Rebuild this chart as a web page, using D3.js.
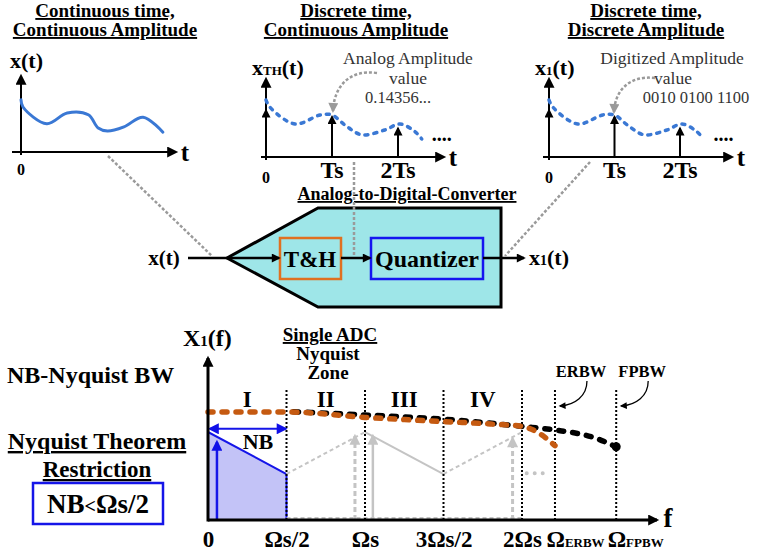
<!DOCTYPE html>
<html>
<head>
<meta charset="utf-8">
<script src="https://cdn.jsdelivr.net/npm/d3@7"></script>
<style>
body { margin: 0; background: #fff; }
svg { display: block; }
text { font-family: "Liberation Serif", "DejaVu Serif", serif; font-weight: bold; fill: #000; }
</style>
</head>
<body>
<svg id="chart"></svg>
<script>
var width = 757;
var height = 553;

// time signals, t in units of Ts, amplitude 0..1
var contSignal = [[0, 0.87], [0.03, 0.75], [0.39, 0.47], [0.7, 0.65], [1.02, 0.62], [1.17, 0.4],
	[1.31, 0.35], [1.56, 0.42], [1.85, 0.58], [2.15, 0.33]];
var heldSignal = [[0, 0.95], [0.06, 0.83], [0.44, 0.55], [0.82, 0.7], [1, 0.7], [1.2, 0.53],
	[1.45, 0.37], [1.8, 0.45], [2.03, 0.55], [2.26, 0.42], [2.36, 0.3]];
var sampleTimes = [0, 1, 2];
var sampleValues = [0.78, 0.67, 0.48];
var sampleLabels = ["0", "Ts", "2Ts"];

var panelTitles = [
	["Continuous time,", "Continuous Amplitude"],
	["Discrete time,", "Continuous Amplitude"],
	["Discrete time,", "Discrete Amplitude"]
];
var panelNotes = [
	[],
	["Analog Amplitude", "value", "0.14356..."],
	["Digitized Amplitude", "value", "0010 0100 1100"]
];

// spectrum, f in units of Ωs, amplitude 0..1
var spectrumTicks = [0, 0.5, 1, 1.5, 2, 2.21, 2.6];
var spectrumLabels = [["0", ""], ["Ωs/2", ""], ["Ωs", ""], ["3Ωs/2", ""], ["2Ωs", ""], ["Ω", "ERBW"], ["Ω", "FPBW"]];
var zoneEdges = [0.5, 1, 1.5, 2];
var bandEdges = [2.21, 2.6];
var bandNames = ["ERBW", "FPBW"];
var zoneNames = ["I", "II", "III", "IV"];
var zoneCenters = [0.25, 0.75, 1.25, 1.75];
var erbwCurve = [[0, 0.9], [0.5, 0.9], [1, 0.855], [1.5, 0.82], [1.8, 0.8], [2, 0.78], [2.1, 0.73], [2.21, 0.62]];
var fpbwCurve = [[0.5, 0.905], [1, 0.875], [1.5, 0.84], [2, 0.78], [2.21, 0.75], [2.45, 0.69], [2.6, 0.61]];
var basebandEdge = [[0, 0.733], [0.5, 0.383]];
var imageEdges = [[0.5, 0.383], [1, 0.733], [1.5, 0.383], [2, 0.733]];
var basebandArrow = [0.057, 0.65];
var imageArrowsDashed = [[0.936, 0.7], [1.94, 0.68]];
var imageArrowsSolid = [[1.05, 0.7]];
var aliasDots = [[2.03, 0.39], [2.18, 0.39]];
var nbSpan = [0, 0.5, 0.76];

var svg = d3.select("#chart").attr("width", width).attr("height", height);
svg.append("rect").attr("width", width).attr("height", height).attr("fill", "#fff");
var defs = svg.append("defs");

function marker(id, color, w, h) {
	defs.append("marker")
		.attr("id", id)
		.attr("viewBox", "0 0 10 10")
		.attr("refX", 8).attr("refY", 5)
		.attr("markerUnits", "userSpaceOnUse")
		.attr("markerWidth", w).attr("markerHeight", h)
		.attr("orient", "auto-start-reverse")
		.append("path").attr("d", "M0,0L10,5L0,10z").attr("fill", color);
}
marker("ah", "#000", 15, 11);
marker("ahS", "#000", 10, 9);
marker("ahT", "#000", 8, 7);
marker("ahB", "#1010e8", 12, 11);
marker("ahG", "#9a9a9a", 11, 10);
marker("ahL", "#c4c4c4", 12, 11);

function line(g, x1, y1, x2, y2, color, w, mk, dash) {
	var l = g.append("line").attr("x1", x1).attr("y1", y1).attr("x2", x2).attr("y2", y2)
		.attr("stroke", color).attr("stroke-width", w);
	if (mk) l.attr("marker-end", "url(#" + mk + ")");
	if (dash) l.attr("stroke-dasharray", dash);
	return l;
}

function txt(g, x, y, size, anchor) {
	return g.append("text").attr("x", x).attr("y", y).attr("font-size", size)
		.attr("text-anchor", anchor || "middle");
}

function part(t, str, size) {
	t.append("tspan").attr("font-size", size).text(str);
	return t;
}

// ---------- time domain panels ----------
function timePanel(p) {
	var g = svg.append("g");
	var x = d3.scaleLinear().domain([0, 1]).range([p.ox, p.ox + p.k]);
	var y = d3.scaleLinear().domain([0, 1]).range([p.oy, p.oy - 60]);

	txt(g, p.cx, 17, 19).style("text-decoration", "underline").text(panelTitles[p.i][0]);
	txt(g, p.cx, 36, 19).style("text-decoration", "underline").text(panelTitles[p.i][1]);

	line(g, p.x0, p.oy, p.x1, p.oy, "#000", 2, "ah");
	line(g, p.ox, p.oy + 3, p.ox, p.ytop, "#000", 2, "ah");
	txt(g, p.x1 + 9, p.oy + 9, 25).text("t");

	var lab = txt(g, p.lx, p.ly, 22, "start");
	p.ylabel.forEach(function(d) { part(lab, d[0], d[1]); });

	var path = d3.line().x(function(d) { return x(d[0]); }).y(function(d) { return y(d[1]); })
		.curve(d3.curveCatmullRom);

	if (!p.sampled) {
		g.append("path").attr("d", path(contSignal)).attr("fill", "none")
			.attr("stroke", "#3a78d4").attr("stroke-width", 3).attr("stroke-linecap", "round");
		txt(g, p.ox, p.oy + 23, 16).text("0");
		return;
	}

	g.append("path").attr("d", path(heldSignal)).attr("fill", "none")
		.attr("stroke", "#3a78d4").attr("stroke-width", 3.5)
		.attr("stroke-dasharray", "3,6").attr("stroke-linecap", "round");
	txt(g, x(2.36) + 10, y(0.3) + 2, 20, "start").text("....");

	sampleTimes.forEach(function(t, i) {
		line(g, x(t), p.oy, x(t), y(sampleValues[i]) , "#000", 2, "ahS");
		if (i == 0) txt(g, x(t), p.oy + 26, 16).text(sampleLabels[i]);
		else txt(g, x(t), p.oy + 21, 24).text(sampleLabels[i]);
	});

	var notes = panelNotes[p.i];
	txt(g, p.nx[0], 64, 17.5).style("font-weight", "normal").style("fill", "#333").text(notes[0]);
	txt(g, p.nx[1], 84, 17.5).style("font-weight", "normal").style("fill", "#333").text(notes[1]);
	txt(g, p.nx[2], 103, 16.5).style("font-weight", "normal").style("fill", "#333").text(notes[2]);

	g.append("path").attr("d", p.curl).attr("fill", "none")
		.attr("stroke", "#9a9a9a").attr("stroke-width", 2.5).attr("stroke-dasharray", "3,2")
		.attr("marker-end", "url(#ahG)");
}

timePanel({ i: 0, ox: 21, oy: 152, k: 66, x0: 12, x1: 176, ytop: 76, cx: 105,
	lx: 10, ly: 68, ylabel: [["x(t)", 22]], sampled: false });
timePanel({ i: 1, ox: 266, oy: 157, k: 66, x0: 261, x1: 444, ytop: 79, cx: 356,
	lx: 252, ly: 75, ylabel: [["x", 22], ["TH", 13], ["(t)", 22]], sampled: true,
	nx: [408, 408, 398], curl: "M377,73 C350,69 334,86 333,111" });
timePanel({ i: 2, ox: 549, oy: 157, k: 65.5, x0: 543, x1: 732, ytop: 79, cx: 646,
	lx: 535, ly: 75, ylabel: [["x", 22], ["1", 13], ["(t)", 22]], sampled: true,
	nx: [672, 673, 696], curl: "M655,78 C630,75 615,90 614,112" });

// ---------- ADC block ----------
var adc = svg.append("g");
adc.append("polygon").attr("points", "227,258 318,208 501,208 501,307 318,307")
	.attr("fill", "#9ee6e8").attr("stroke", "#000").attr("stroke-width", 3);
adc.append("rect").attr("x", 280).attr("y", 238).attr("width", 61).attr("height", 41)
	.attr("fill", "none").attr("stroke", "#e07020").attr("stroke-width", 2.5);
adc.append("rect").attr("x", 371).attr("y", 238).attr("width", 112).attr("height", 41)
	.attr("fill", "none").attr("stroke", "#1515f0").attr("stroke-width", 2.5);
txt(adc, 407, 200, 18).style("text-decoration", "underline").text("Analog-to-Digital-Converter");
txt(adc, 164, 265, 21).text("x(t)");
txt(adc, 310, 267, 23).text("T&H");
txt(adc, 427, 267, 24).text("Quantizer");
var xo = txt(adc, 529, 265, 22, "start");
part(xo, "x", 22); part(xo, "1", 14); part(xo, "(t)", 22);
line(adc, 188, 258, 279, 258, "#000", 2.5, "ahS");
line(adc, 341, 258, 370, 258, "#000", 2.5, "ahS");
line(adc, 483, 258, 524, 258, "#000", 2.5, "ahS");

// gray dashed guides from panels to the block
line(svg, 108, 156, 212, 256, "#9a9a9a", 2.5, null, "3,2");
line(svg, 354, 162, 354, 257, "#9a9a9a", 2.5, null, "3,2");
line(svg, 590, 162, 505, 256, "#9a9a9a", 2.5, null, "3,2");

// ---------- spectrum ----------
var sp = svg.append("g");
var fx = d3.scaleLinear().domain([0, 2]).range([208, 522]);
var fy = d3.scaleLinear().domain([0, 1]).range([520, 400]);
var fline = d3.line().x(function(d) { return fx(d[0]); }).y(function(d) { return fy(d[1]); });

// baseband (blue)
var base = [[0, 0]].concat(basebandEdge).concat([[0.5, 0]]);
sp.append("path").attr("d", fline(base) + "Z").attr("fill", "#c3c3f7")
	.attr("stroke", "#1515e8").attr("stroke-width", 2);
line(sp, fx(basebandArrow[0]), fy(0), fx(basebandArrow[0]), fy(basebandArrow[1]), "#1515e8", 2.5, "ahB");

// images (gray)
line(sp, fx(0.5), fy(0) - 2, fx(2), fy(0) - 2, "#c4c4c4", 2, null, "4,3");
sp.append("path").attr("d", fline(imageEdges.slice(0, 2))).attr("fill", "none")
	.attr("stroke", "#c4c4c4").attr("stroke-width", 2).attr("stroke-dasharray", "4,3");
sp.append("path").attr("d", fline(imageEdges.slice(1, 3))).attr("fill", "none")
	.attr("stroke", "#c4c4c4").attr("stroke-width", 2);
sp.append("path").attr("d", fline(imageEdges.slice(2, 4))).attr("fill", "none")
	.attr("stroke", "#c4c4c4").attr("stroke-width", 2).attr("stroke-dasharray", "4,3");
imageArrowsDashed.forEach(function(a) {
	line(sp, fx(a[0]), fy(0), fx(a[0]), fy(a[1]), "#c4c4c4", 3, "ahL", "5,3");
});
imageArrowsSolid.forEach(function(a) {
	line(sp, fx(a[0]), fy(0), fx(a[0]), fy(a[1]), "#c4c4c4", 2.5, "ahL");
});
sp.append("path").attr("d", fline(aliasDots)).attr("stroke", "#c4c4c4").attr("stroke-width", 4)
	.attr("stroke-dasharray", "0,8").attr("stroke-linecap", "round");

// zone separators and bandwidth edges
zoneEdges.concat(bandEdges).forEach(function(f) {
	line(sp, fx(f), fy(0), fx(f), fy(1.1), "#000", 2, null, "2,2");
});
zoneNames.forEach(function(n, i) {
	txt(sp, fx(zoneCenters[i]), 407, 23).text(n);
});

// bandwidth curves
var smooth = fline.curve(d3.curveMonotoneX);
sp.append("path").attr("d", smooth(fpbwCurve)).attr("fill", "none")
	.attr("stroke", "#000").attr("stroke-width", 5.5).attr("stroke-dasharray", "5,9")
	.attr("stroke-dashoffset", 7).attr("stroke-linecap", "round");
sp.append("circle").attr("cx", fx(2.6)).attr("cy", fy(0.61)).attr("r", 4.5).attr("fill", "#000");
sp.append("path").attr("d", smooth(erbwCurve)).attr("fill", "none")
	.attr("stroke", "#c55a11").attr("stroke-width", 5.5).attr("stroke-dasharray", "5,9")
	.attr("stroke-linecap", "round");

// NB span
var nbY = fy(nbSpan[2]);
sp.append("line").attr("x1", fx(nbSpan[0]) + 2).attr("y1", nbY).attr("x2", fx(nbSpan[1]) - 1).attr("y2", nbY)
	.attr("stroke", "#1515e8").attr("stroke-width", 2)
	.attr("marker-end", "url(#ahB)").attr("marker-start", "url(#ahB)");
txt(sp, 258, 449, 22).text("NB");

// axes
line(sp, fx(0), fy(0), 657, fy(0), "#000", 3, "ah");
line(sp, fx(0), fy(0) + 1.5, fx(0), 358, "#000", 3, "ah");
txt(sp, 668, 527, 27).text("f");
var xl = txt(sp, 183, 346, 24, "start");
part(xl, "X", 24); part(xl, "1", 15); part(xl, "(f)", 24);

var axis = d3.axisBottom(fx).tickValues(spectrumTicks).tickSize(0).tickPadding(11).tickFormat("");
var ax = sp.append("g").attr("transform", "translate(0," + fy(0) + ")").call(axis);
ax.select(".domain").remove();
ax.selectAll(".tick text").each(function(d, i) {
	var t = d3.select(this).attr("font-size", 23).attr("font-family", null);
	var lab = spectrumLabels[i];
	part(t, lab[0], 23);
	if (lab[1]) {
		part(t, lab[1], 13);
		t.attr("text-anchor", "start").attr("x", -9);
	}
});

// bandwidth callouts
bandEdges.forEach(function(f, i) {
	var x0 = fx(f);
	txt(sp, x0 + 26, 377, 16.5).text(bandNames[i]);
	sp.append("path")
		.attr("d", "M" + (x0 + 32) + ",381 C" + (x0 + 32) + ",396 " + (x0 + 20) + ",405 " + (x0 + 5) + ",406")
		.attr("fill", "none").attr("stroke", "#000").attr("stroke-width", 1.3)
		.attr("marker-end", "url(#ahT)");
});

txt(sp, 330, 341, 19).style("text-decoration", "underline").text("Single ADC");
txt(sp, 328, 360, 19).text("Nyquist");
txt(sp, 328, 379, 19).text("Zone");

// left notes
txt(svg, 7, 383, 24, "start").text("NB-Nyquist BW");
txt(svg, 97, 449, 24).style("text-decoration", "underline").text("Nyquist Theorem");
txt(svg, 97, 477, 23).style("text-decoration", "underline").text("Restriction");
svg.append("rect").attr("x", 33).attr("y", 483).attr("width", 130).attr("height", 41)
	.attr("fill", "none").attr("stroke", "#1515e8").attr("stroke-width", 2.5);
var nbt = txt(svg, 98, 513, 27);
part(nbt, "NB", 27); part(nbt, "<", 20); part(nbt, "Ωs/2", 27);
</script>
</body>
</html>
